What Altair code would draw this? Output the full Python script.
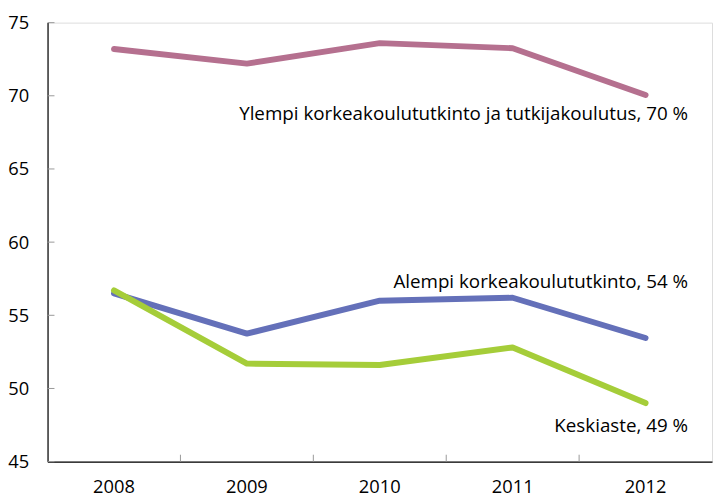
import altair as alt
import pandas as pd

years = ["2008", "2009", "2010", "2011", "2012"]
ylempi = [73.2, 72.2, 73.6, 73.25, 70.05]
alempi = [56.5, 53.75, 56.0, 56.2, 53.45]
keskiaste = [56.7, 51.7, 51.6, 52.8, 49.0]
series_names = [
    "Ylempi korkeakoulututkinto ja tutkijakoulutus, 70 %",
    "Alempi korkeakoulututkinto, 54 %",
    "Keskiaste, 49 %",
]
colors = ["#b5708f", "#6470b9", "#a5cd39"]
label_dy = [19, -57, 23]
y_ticks = [45, 50, 55, 60, 65, 70, 75]

rows = []
for name, vals in zip(series_names, [ylempi, alempi, keskiaste]):
    for yr, v in zip(years, vals):
        rows.append({"year": yr, "value": v, "series": name})
df = pd.DataFrame(rows)

W, H = 672, 444
FONT = "Open Sans"

xscale = alt.Scale(type="band", domain=years, paddingInner=0, paddingOuter=0)
yscale = alt.Scale(domain=[45, 75], nice=False, zero=False)

lines = alt.Chart(df).mark_line(strokeWidth=6, strokeCap="round", strokeJoin="round").encode(
    x=alt.X("year:O", scale=xscale, bandPosition=0.5,
            axis=alt.Axis(title=None, labelAngle=0, labelFontSize=18.5, labelFont=FONT,
                          labelColor="black", labelPadding=16, ticks=False,
                          domainColor="black", domainWidth=1.2)),
    y=alt.Y("value:Q", scale=yscale,
            axis=alt.Axis(title=None, values=y_ticks, labelFontSize=18.5, labelFont=FONT,
                          labelColor="black", labelPadding=19, ticks=False, grid=False,
                          domainColor="black", domainWidth=1.2)),
    color=alt.Color("series:N", scale=alt.Scale(domain=series_names, range=colors), legend=None),
)

layers = [lines]
for name, vals, dy in zip(series_names, [ylempi, alempi, keskiaste], label_dy):
    lab = pd.DataFrame({"year": [years[-1]], "value": [vals[-1]], "label": [name]})
    layers.append(
        alt.Chart(lab).mark_text(align="right", baseline="middle", fontSize=19, font=FONT,
                                 color="black", dx=43, dy=dy).encode(
            x=alt.X("year:O", scale=xscale, bandPosition=0.5),
            y=alt.Y("value:Q", scale=yscale),
            text="label:N",
        )
    )

ytick_df = pd.DataFrame({"v": y_ticks})
layers.append(
    alt.Chart(ytick_df).mark_rule(color="#999999", strokeWidth=1).encode(
        y=alt.Y("v:Q", scale=yscale), x=alt.value(0), x2=alt.value(7)
    )
)
xtick_df = pd.DataFrame({"year": years[1:]})
layers.append(
    alt.Chart(xtick_df).mark_rule(color="#999999", strokeWidth=1).encode(
        x=alt.X("year:O", scale=xscale, bandPosition=0), y=alt.value(H - 7), y2=alt.value(H)
    )
)

chart = alt.layer(*layers).properties(
    width=W, height=H,
    autosize=alt.AutoSizeParams(type="none"),
    padding={"left": 40, "top": 12, "right": 1, "bottom": 36},
).configure_view(stroke=None).configure(background="white")

chart.save("out.html", embed_options={"renderer": "svg", "actions": False})
